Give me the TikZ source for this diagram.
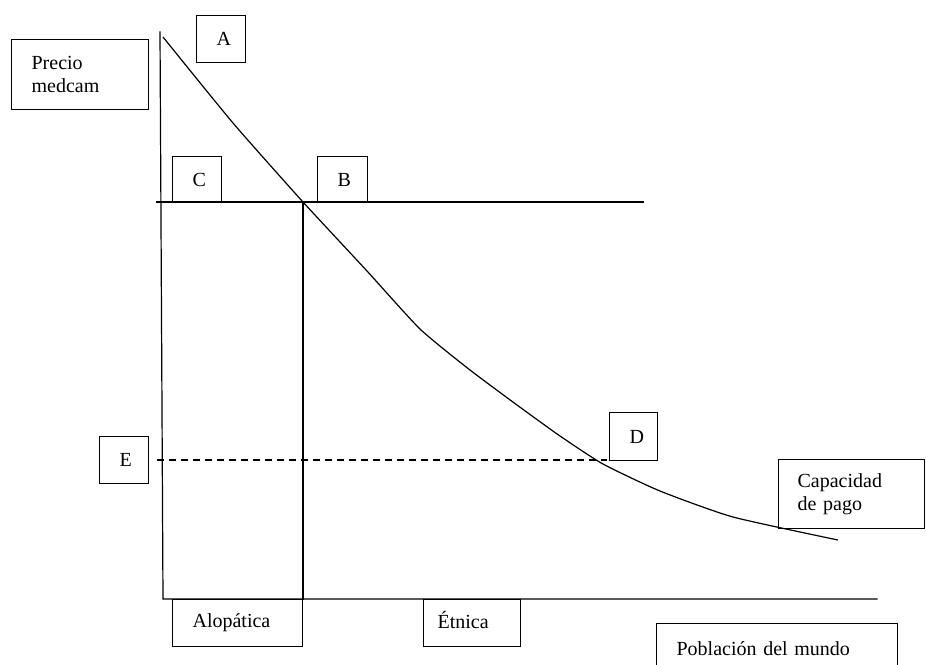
\documentclass[tikz,border=0pt]{standalone}
\usepackage{fontspec}
\setmainfont{Liberation Serif}
\begin{document}
\begin{tikzpicture}[x=1pt,y=-1pt,
  every node/.style={font=\fontsize{20}{23}\selectfont},
  ln/.style={line width=1.2pt, line cap=rect},
  tbox/.style={draw, line width=1.2pt, anchor=north west, align=left,
    inner xsep=0pt, inner ysep=0pt},
  dashline/.style={line width=1.2pt, dash pattern=on 7pt off 5pt}]
\useasboundingbox (0,0) rectangle (926,664);

% axes and guide points
\coordinate (ytop) at (160,32);
\coordinate (ybot) at (163,599);
\coordinate (xend) at (877,599);
\coordinate (hl) at (157,202);
\coordinate (hr) at (643,202);
\coordinate (B0) at (303,202);
\coordinate (B1) at (303,599);
\coordinate (dl) at (157,460);
\coordinate (dr) at (607,460);

\draw[ln] (ytop) -- (ybot) -- (xend);
\draw[ln] (hl) -- (hr);
\draw[ln] (B0) -- (B1);
\draw[dashline] (dl) -- (dr);

% demand curve (capacidad de pago)
\draw[line width=1.2pt] plot[smooth, tension=0.35] coordinates {
  (163,37) (233,123) (303,202) (367,271) (420,329)
  (470,370) (517,405) (560,436) (603,464) (660,491) (733,517)
  (838,540)};

% labels
\node[tbox, minimum width=137pt, minimum height=70pt, text width=97pt] (precio) at (11,39) {Precio\\medcam};
\node[tbox, minimum width=49pt, minimum height=47pt, text width=9pt] (A) at (196,15) {A};
\node[tbox, minimum width=49pt, minimum height=46pt, text width=9pt] (C) at (172,156) {C};
\node[tbox, minimum width=50pt, minimum height=46pt, text width=10pt] (B) at (317,156) {B};
\node[tbox, minimum width=49pt, minimum height=47pt, text width=9pt] (E) at (99,436) {E};
\node[tbox, minimum width=48pt, minimum height=48pt, text width=8pt] (D) at (609,412) {D};
\node[tbox, minimum width=146pt, minimum height=69pt, text width=108pt] (cap) at (778,459) {Capacidad\\de pago};
\node[tbox, minimum width=130pt, minimum height=47pt, text width=90pt] (alo) at (172,599) {\strut Alopática};
\node[tbox, minimum width=97pt, minimum height=47pt, text width=69pt] (etn) at (423,599) {\strut Étnica};
\node[tbox, minimum width=241pt, minimum height=54pt, text width=201pt] (pob) at (656,623) {\strut Población del mundo};
\end{tikzpicture}
\end{document}
